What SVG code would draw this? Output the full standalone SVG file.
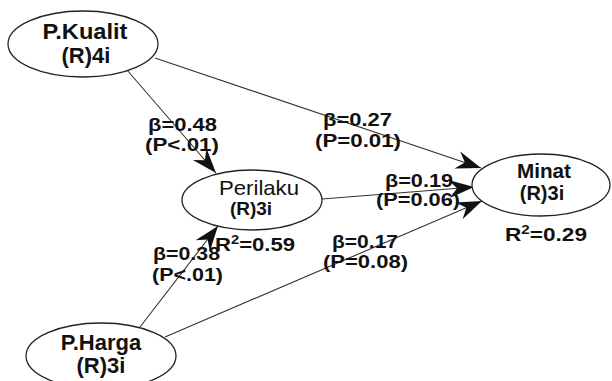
<svg xmlns="http://www.w3.org/2000/svg" width="612" height="381" viewBox="0 0 612 381">
  <defs>
    <marker id="head" markerUnits="userSpaceOnUse" markerWidth="30" markerHeight="24" refX="0" refY="0" viewBox="-26 -12 30 24" orient="auto">
      <path d="M0,0 L-25,-9 L-17,0 L-25,9 Z" fill="#111"/>
    </marker>
  </defs>
  <style>
    .node ellipse { fill: #fff; stroke: #222; stroke-width: 1.3; }
    .edge { stroke: #333; stroke-width: 1.1; fill: none; marker-end: url(#head); }
    text { font-family: "Liberation Sans", Arial, sans-serif; fill: #111; }
    .big { font-size: 22px; font-weight: bold; text-anchor: middle; }
    .mid { font-size: 20px; font-weight: bold; text-anchor: middle; }
    .lab { font-size: 18px; font-weight: bold; }
  </style>
  <rect width="612" height="381" fill="#fff"/>

  <!-- path connectors -->
  <g id="connectors">
    <line class="edge" x1="127" y1="70" x2="216" y2="173"/>
    <line class="edge" x1="155" y1="58" x2="481" y2="168"/>
    <line class="edge" x1="322" y1="199" x2="474" y2="187"/>
    <line class="edge" x1="165" y1="337" x2="482" y2="201"/>
    <line class="edge" x1="140" y1="327" x2="218" y2="226"/>
  </g>

  <!-- latent variables -->
  <g id="pkualit" class="node">
    <ellipse cx="83" cy="44" rx="75" ry="33"/>
    <text class="big" x="85" y="39" textLength="85" lengthAdjust="spacingAndGlyphs">P.Kualit</text>
    <text class="big" x="86" y="63">(R)4i</text>
  </g>
  <g id="perilaku" class="node">
    <ellipse cx="252" cy="200" rx="70" ry="30"/>
    <text x="259" y="195" font-size="21" text-anchor="middle" textLength="80" lengthAdjust="spacingAndGlyphs">Perilaku</text>
    <text x="251" y="215" font-size="19" font-weight="bold" text-anchor="middle">(R)3i</text>
  </g>
  <g id="minat" class="node">
    <ellipse cx="541" cy="185" rx="69" ry="31"/>
    <text class="mid" x="544" y="178" textLength="54" lengthAdjust="spacingAndGlyphs">Minat</text>
    <text class="mid" x="542" y="200">(R)3i</text>
  </g>
  <g id="pharga" class="node">
    <ellipse cx="101" cy="356" rx="75" ry="33"/>
    <text class="big" x="101" y="350">P.Harga</text>
    <text class="big" x="101" y="373">(R)3i</text>
  </g>

  <!-- path coefficients -->
  <g id="labels">
    <text class="lab" x="148" y="131" textLength="69" lengthAdjust="spacingAndGlyphs">β=0.48</text>
    <text class="lab" x="145" y="151" textLength="74" lengthAdjust="spacingAndGlyphs">(P&lt;.01)</text>
    <text class="lab" x="323" y="126" textLength="69" lengthAdjust="spacingAndGlyphs">β=0.27</text>
    <text class="lab" x="315" y="147" textLength="86" lengthAdjust="spacingAndGlyphs">(P=0.01)</text>
    <text class="lab" x="385" y="187" textLength="68" lengthAdjust="spacingAndGlyphs">β=0.19</text>
    <text class="lab" x="376" y="206" textLength="84" lengthAdjust="spacingAndGlyphs">(P=0.06)</text>
    <text class="lab" x="332" y="248" textLength="66" lengthAdjust="spacingAndGlyphs">β=0.17</text>
    <text class="lab" x="323" y="268" textLength="85" lengthAdjust="spacingAndGlyphs">(P=0.08)</text>
    <text class="lab" x="153" y="260" textLength="67" lengthAdjust="spacingAndGlyphs">β=0.38</text>
    <text class="lab" x="152" y="281" textLength="71" lengthAdjust="spacingAndGlyphs">(P&lt;.01)</text>
    <text class="lab" x="215" y="251" textLength="80" lengthAdjust="spacingAndGlyphs">R<tspan dy="-7" font-size="12">2</tspan><tspan dy="7">=0.59</tspan></text>
    <text class="lab" x="505" y="241" textLength="82" lengthAdjust="spacingAndGlyphs">R<tspan dy="-7" font-size="12">2</tspan><tspan dy="7">=0.29</tspan></text>
  </g>
</svg>
